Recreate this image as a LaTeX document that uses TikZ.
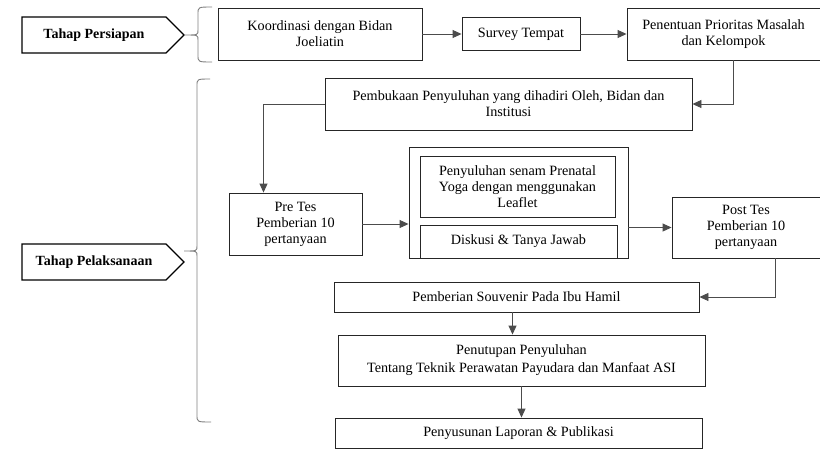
\documentclass[tikz,border=0pt]{standalone}
\usepackage{fontspec}
\setmainfont{Liberation Serif}
\usetikzlibrary{arrows.meta,calc,shapes.symbols}

\begin{document}
\begin{tikzpicture}[x=1pt,y=-1pt,
    kotak/.style={draw=black!85,line width=0.9pt,align=center,inner sep=0pt,font=\fontsize{14.2}{16}\selectfont},
    panah/.style={draw=black!70,line width=0.9pt,-{Triangle[length=9pt,width=8pt]}},
    kurung/.style={draw=black!50,line width=0.9pt},
    tahap/.style={draw=black,line width=1.3pt,signal,signal to=east,inner sep=0pt,minimum height=36pt,minimum width=162pt,font=\fontsize{14}{16}\selectfont\bfseries}]
        \useasboundingbox (0,0) rectangle (820,448);
        \clip (0,0) rectangle (820,448);
        \fill [white] (0,0) rectangle (820,448);
        \node[tahap] (persiapan) at (94,35) {Tahap Persiapan};
        \node[tahap] (pelaksanaan) at (94,262) {Tahap Pelaksanaan};
        \draw[kurung] (212,7) .. controls (198,7) .. (198,14) -- (198,30) .. controls (198,35) .. (185,35) .. controls (198,35) .. (198,40) -- (198,55) .. controls (198,62) .. (212,62);
        \draw[kurung] (210,79) .. controls (197,79) .. (197,86) -- (197,246) .. controls (197,251) .. (184,251) .. controls (197,251) .. (197,256) -- (197,415) .. controls (197,422) .. (211,422);
        \node[kotak,minimum width=204pt,minimum height=52pt] (koordinasi) at (320,34) {Koordinasi dengan Bidan\\Joeliatin};
        \node[kotak,minimum width=118pt,minimum height=33pt] (survey) at (521,34) {Survey Tempat};
        \node[kotak,minimum width=193pt,minimum height=52pt] (prioritas) at (723.5,34) {Penentuan Prioritas Masalah\\dan Kelompok};
        \node[kotak,minimum width=367pt,minimum height=52pt] (pembukaan) at (508.5,104) {Pembukaan Penyuluhan yang dihadiri Oleh, Bidan dan\\Institusi};
        \node[kotak,minimum width=133pt,minimum height=62pt] (pretes) at (295.5,224) {Pre Tes\\Pemberian 10\\pertanyaan};
        \node[kotak,minimum width=219pt,minimum height=111pt] (materi) at (518.5,202.5) {};
        \node[kotak,minimum width=195pt,minimum height=61pt] (senam) at (517.5,186.5) {Penyuluhan senam Prenatal\\Yoga dengan menggunakan\\Leaflet};
        \node[kotak,minimum width=197pt,minimum height=33pt] (diskusi) at (518.5,241.5) {Diskusi \& Tanya Jawab};
        \node[kotak,minimum width=148pt,minimum height=61pt] (posttes) at (746,227.5) {Post Tes\\Pemberian 10\\pertanyaan};
        \node[kotak,minimum width=365pt,minimum height=30pt] (souvenir) at (516.5,297) {Pemberian Souvenir Pada Ibu Hamil};
        \node[kotak,minimum width=367pt,minimum height=51pt] (penutupan) at (521.5,360.5) {Penutupan Penyuluhan\\[2pt]Tentang Teknik Perawatan Payudara dan Manfaat ASI};
        \node[kotak,minimum width=367pt,minimum height=30pt] (laporan) at (518.5,433) {Penyusunan Laporan \& Publikasi};
        \draw[panah] (koordinasi.east) -- (survey.west);
        \draw[panah] (survey.east) -- (prioritas.west);
        \draw[panah] ($(prioritas.south)+(10,0)$) |- (pembukaan.east);
        \draw[panah] (pembukaan.west) -| ($(pretes.north)+(-32,0)$);
        \draw[panah] (pretes.east) -- (pretes.east -| materi.west);
        \draw[panah] (posttes.west -| materi.east) -- (posttes.west);
        \draw[panah] ($(posttes.south)+(29,0)$) |- (souvenir.east);
        \draw[panah] ($(souvenir.south)+(-4,0)$) -- ($(souvenir.south |- penutupan.north)+(-4,0)$);
        \draw[panah] (penutupan.south) -- (penutupan.south |- laporan.north);
\end{tikzpicture}
\end{document}
